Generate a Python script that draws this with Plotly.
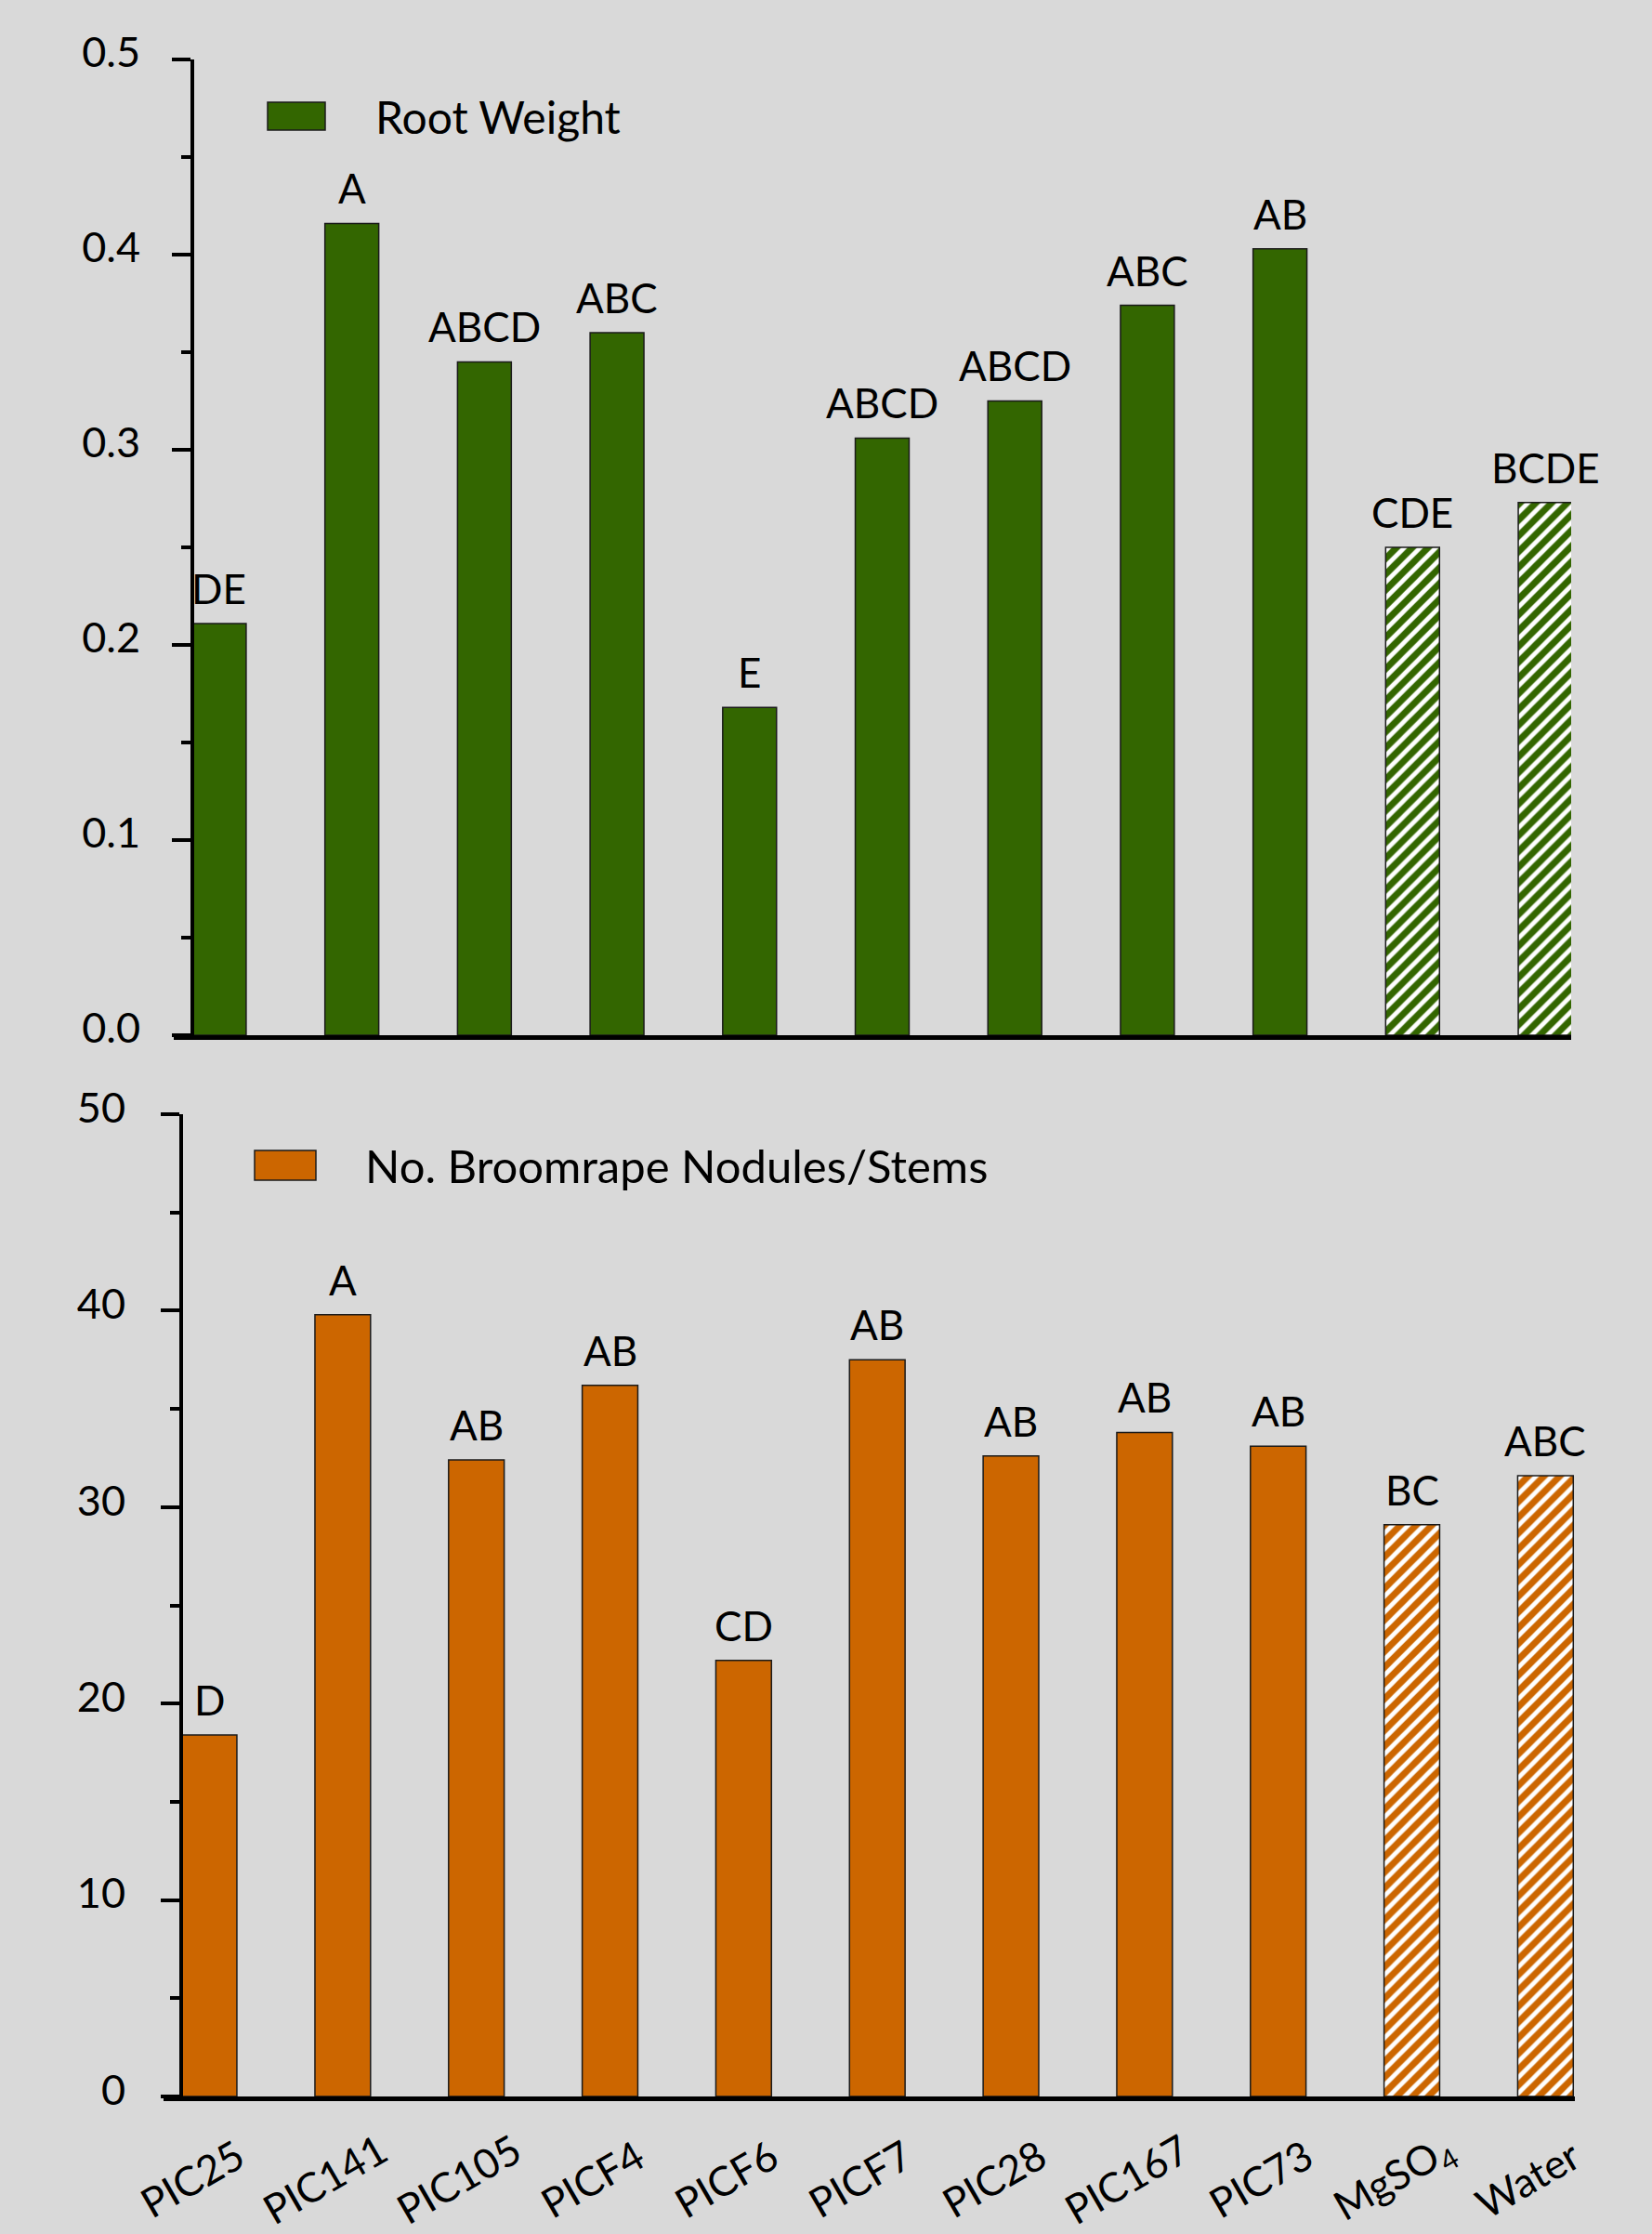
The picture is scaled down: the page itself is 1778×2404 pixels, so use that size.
import plotly.graph_objects as go

# ---------------- data ----------------
categories = ["PIC25", "PIC141", "PIC105", "PICF4", "PICF6", "PICF7",
              "PIC28", "PIC167", "PIC73", "MgSO4", "Water"]
category_labels = ["PIC25", "PIC141", "PIC105", "PICF4", "PICF6", "PICF7",
                   "PIC28", "PIC167", "PIC73", "MgSO<sub>4</sub>", "Water"]
root_weight = [0.211, 0.416, 0.345, 0.360, 0.168, 0.306, 0.325, 0.374, 0.403, 0.250, 0.273]
root_letters = ["DE", "A", "ABCD", "ABC", "E", "ABCD", "ABCD", "ABC", "AB", "CDE", "BCDE"]
nodules = [18.4, 39.8, 32.4, 36.2, 22.2, 37.5, 32.6, 33.8, 33.1, 29.1, 31.6]
nodule_letters = ["D", "A", "AB", "AB", "CD", "AB", "AB", "AB", "AB", "BC", "ABC"]
is_control = [False] * 9 + [True] * 2
top_ticks = [0.0, 0.1, 0.2, 0.3, 0.4, 0.5]
bottom_ticks = [0, 10, 20, 30, 40, 50]

# ---------------- style ----------------
W, H = 1778, 2404
BG = "#D9D9D9"
GREEN = "#336600"
ORANGE = "#CC6600"
FONT = "Lato"
FS = 45

def fx(p):
    return p / W

def fy(p):
    return 1 - p / H

patterns = ["/" if c else "" for c in is_control]

fig = go.Figure()

fig.add_trace(go.Bar(
    x=categories, y=root_weight, xaxis="x", yaxis="y",
    width=0.406,
    marker=dict(color=GREEN, line=dict(color="#1a1a1a", width=1.5),
                pattern=dict(shape=patterns, fillmode="overlay", fgcolor="white",
                             fgopacity=1, size=12, solidity=0.4)),
    showlegend=False, name="Root Weight",
))

fig.add_trace(go.Bar(
    x=categories, y=nodules, xaxis="x2", yaxis="y2",
    width=0.416,
    marker=dict(color=ORANGE, line=dict(color="#1a1a1a", width=1.5),
                pattern=dict(shape=patterns, fillmode="overlay", fgcolor="white",
                             fgopacity=1, size=12, solidity=0.4)),
    showlegend=False, name="No. Broomrape Nodules/Stems",
))

yaxis_common = dict(
    showgrid=False, zeroline=False, showline=True, linecolor="black", linewidth=4,
    ticks="outside", ticklen=20, tickwidth=4, tickcolor="black",
    tickfont=dict(family=FONT, size=FS, color="black"),
    anchor="free", automargin=False,
)
xaxis_common = dict(
    showgrid=False, zeroline=False, showline=True, linecolor="black", linewidth=5,
    type="category", automargin=False, showticklabels=False, ticks="",
)

fig.update_layout(
    width=W, height=H,
    margin=dict(l=0, r=0, t=0, b=0, pad=0, autoexpand=False),
    paper_bgcolor=BG, plot_bgcolor=BG,
    font=dict(family=FONT, size=FS, color="black"),
    xaxis=dict(**xaxis_common, domain=[fx(187), fx(1691)], range=[-0.343, 10.196],
               anchor="y"),
    yaxis=dict(**yaxis_common, domain=[fy(1114), fy(64)], range=[0, 0.5],
               position=fx(207), tickvals=top_ticks, tickformat=".1f",
               minor=dict(dtick=0.05, ticks="outside", ticklen=10, tickwidth=4,
                          tickcolor="black", showgrid=False),
               ticklabelstandoff=25, ticklabelshift=-8),
    xaxis2=dict(**xaxis_common, domain=[fx(176), fx(1695)], range=[-0.341, 10.22],
                anchor="y2"),
    yaxis2=dict(**yaxis_common, domain=[fy(2256), fy(1199)], range=[0, 50],
                position=fx(195), tickvals=bottom_ticks,
                minor=dict(dtick=5, ticks="outside", ticklen=10, tickwidth=4,
                           tickcolor="black", showgrid=False),
                ticklabelstandoff=29, ticklabelshift=-7),
)

# significance letters above bars
for xs, ys, letters, xr, yr in [(categories, root_weight, root_letters, "x", "y"),
                                (categories, nodules, nodule_letters, "x2", "y2")]:
    for c, v, t in zip(xs, ys, letters):
        fig.add_annotation(xref=xr, yref=yr, x=c, y=v, text=t, showarrow=False,
                           xanchor="center", yanchor="bottom", yshift=10,
                           font=dict(family=FONT, size=FS - 1, color="black"))

# rotated category labels under the bottom panel
for c, lab in zip(categories, category_labels):
    fig.add_annotation(xref="x2", yref="paper", x=c, y=fy(2344), text=lab,
                       showarrow=False, xanchor="center", yanchor="middle",
                       xshift=-19, textangle=-30,
                       font=dict(family=FONT, size=FS - 1, color="black"))

# legends (swatch + label)
legend_items = [
    (GREEN, "Root Weight", (288, 110, 350, 140), (402, 126), 48),
    (ORANGE, "No. Broomrape Nodules/Stems", (274, 1238, 340, 1270), (391, 1254), 49),
]
for color, label, (x0, y0, x1, y1), (tx, ty), size in legend_items:
    fig.add_shape(type="rect", xref="paper", yref="paper",
                  x0=fx(x0), x1=fx(x1), y0=fy(y1), y1=fy(y0),
                  fillcolor=color, line=dict(color="#1a1a1a", width=1.5))
    fig.add_annotation(xref="paper", yref="paper", x=fx(tx), y=fy(ty),
                       text=label, showarrow=False, xanchor="left", yanchor="middle",
                       font=dict(family=FONT, size=size, color="black"))

fig.write_html("out.html")
